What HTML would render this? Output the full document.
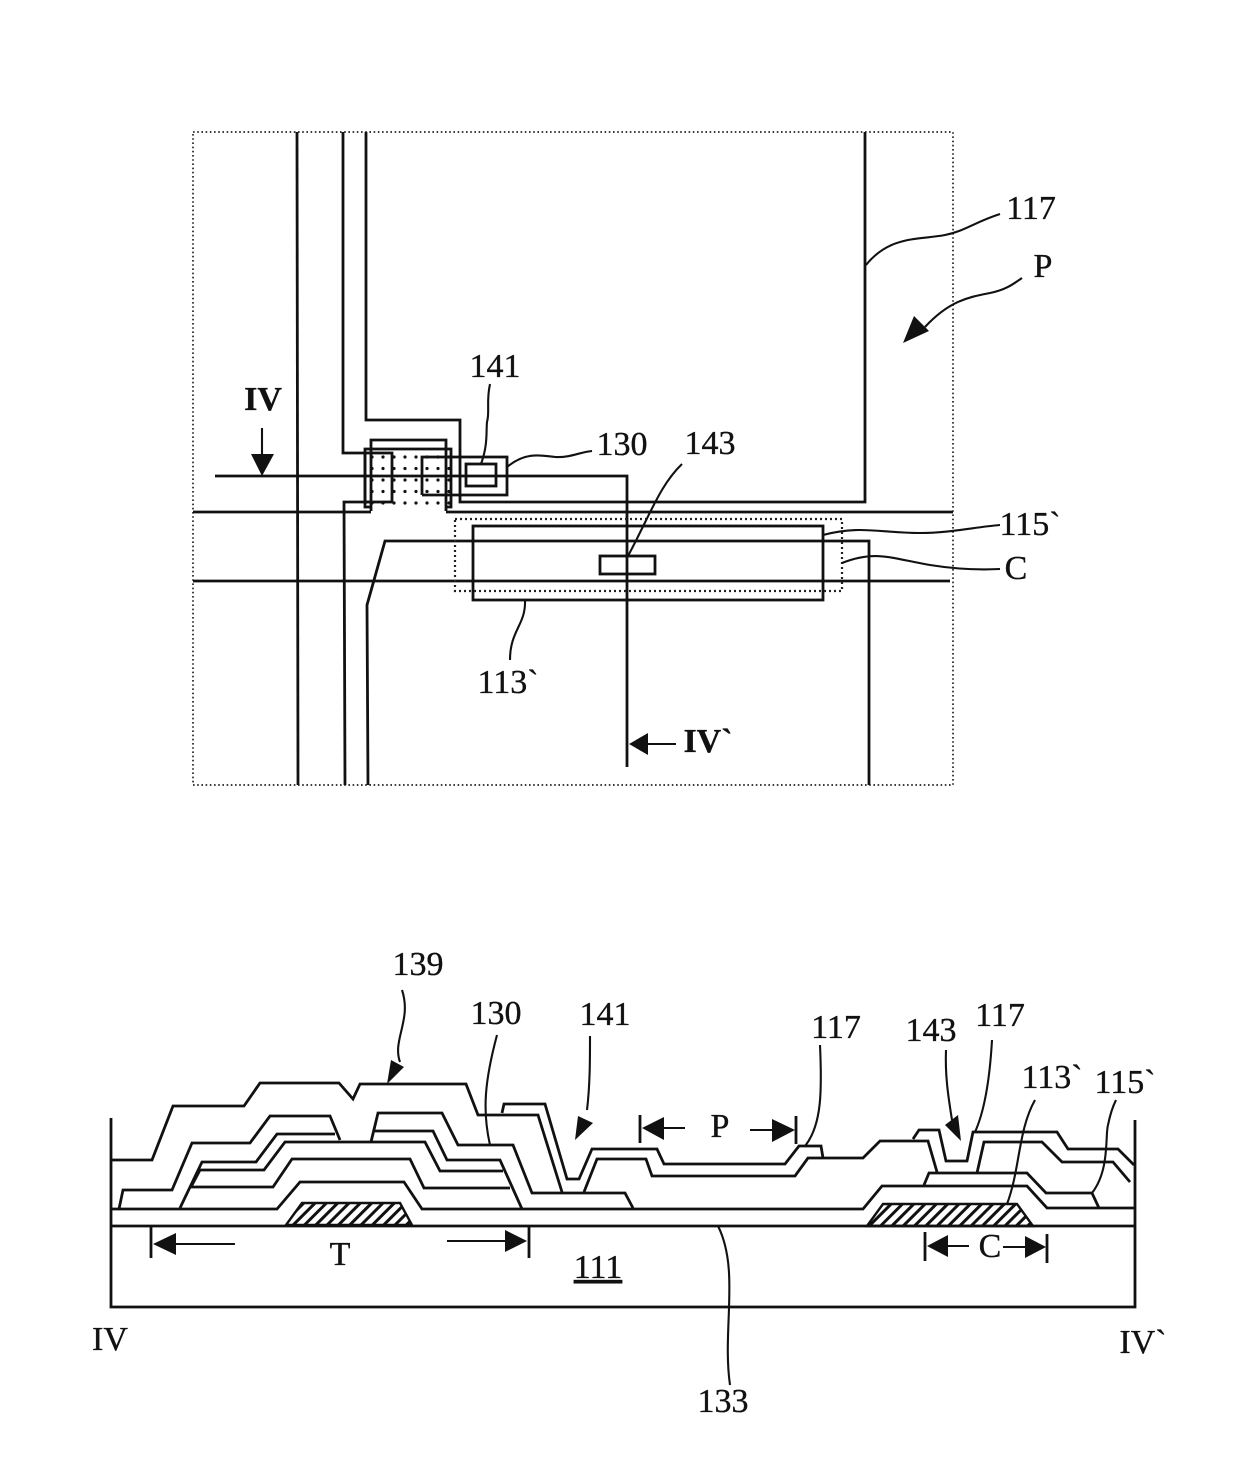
<!DOCTYPE html>
<html><head><meta charset="utf-8"><style>
html,body{margin:0;padding:0;background:#fff}
svg{display:block}
text{font-family:"Liberation Serif",serif;font-size:34px;fill:#111;stroke:#111;stroke-width:.35;text-anchor:middle}
.l{fill:none;stroke:#111;stroke-width:2.8;stroke-linejoin:miter}
.t{fill:none;stroke:#111;stroke-width:2.1}
.d{fill:none;stroke:#222;stroke-width:1.7;stroke-dasharray:1.6 2.6}
.d2{fill:none;stroke:#222;stroke-width:2.2;stroke-dasharray:2 3}
.a{fill:#111;stroke:none}
</style></head><body>
<svg width="1240" height="1471" viewBox="0 0 1240 1471" xmlns="http://www.w3.org/2000/svg">
<defs>
<pattern id="h" width="8" height="8" patternUnits="userSpaceOnUse" patternTransform="rotate(-45)">
<rect width="8" height="8" fill="#fff"/><rect x="0" y="0" width="8" height="3" fill="#111"/>
</pattern>
<pattern id="s" x="366" y="451" width="11" height="11.5" patternUnits="userSpaceOnUse">
<circle cx="6" cy="6" r="1.6" fill="#111"/>
</pattern>
</defs>

<!-- TOP PLAN VIEW -->
<rect x="193" y="132" width="760" height="653" class="d"/>
<rect x="366" y="450" width="85" height="56" fill="url(#s)"/>
<path class="l" d="M297 132L298 785"/>
<path class="l" d="M343 132V453H365"/>
<path class="l" d="M366 132V420H460V502H865V132"/>
<path class="l" d="M345 785L344 502H371"/>
<path class="l" d="M193 512H371M446 512H953"/>
<path class="l" d="M371 511V440H446V511"/>
<path class="l" d="M371 507H365V449H451V507H446"/>
<rect class="l" x="365" y="453" width="27" height="49"/>
<path class="l" d="M422 495V457H507V495H422"/>
<rect class="l" x="466" y="464" width="30" height="22"/>
<path class="l" d="M215 476H627V767"/>
<path class="l" d="M869 785V541H385L367 605L368 785"/>
<path class="l" d="M193 581H950"/>
<rect class="l" x="473" y="526" width="350" height="74"/>
<rect class="d2" x="455" y="519" width="387" height="72"/>
<rect class="l" x="600" y="556" width="55" height="18"/>
<!-- leaders top -->
<path class="t" d="M481 464C488 445 486 432 487 422C490 412 486 402 490 384"/>
<path class="t" d="M507 467C525 452 540 455 555 457C570 458 580 452 592 451"/>
<path class="t" d="M866 265C890 235 920 240 945 235C965 231 975 222 1000 214"/>
<path class="t" d="M925 327C950 300 970 297 990 293C1005 290 1012 285 1022 278"/>
<path class="a" d="M903 343L914 316L929 331Z"/>
<path class="t" d="M823 535C860 525 880 533 920 533C950 533 975 527 1000 525"/>
<path class="t" d="M842 563C875 550 890 558 930 565C955 569 980 570 1000 569"/>
<path class="t" d="M628 556C650 515 660 485 682 464"/>
<path class="t" d="M525 600C526 625 510 630 510 660"/>
<path class="t" d="M262 428V460"/>
<path class="a" d="M262 476L251 454H274Z"/>
<path class="t" d="M646 744H676"/>
<path class="a" d="M629 744L648 733V755Z"/>
<!-- labels top -->
<text x="1031" y="219">117</text>
<text x="1043" y="277">P</text>
<text x="495" y="377">141</text>
<text x="622" y="455">130</text>
<text x="710" y="454">143</text>
<text x="1030" y="535">115`</text>
<text x="1016" y="579">C</text>
<text x="508" y="693">113`</text>
<text x="263" y="410" font-weight="bold">IV</text>
<text x="708" y="752" font-weight="bold">IV`</text>

<!-- CROSS SECTION -->
<path d="M286 1225L302 1203H400L412 1225Z" fill="url(#h)" stroke="#111" stroke-width="2.4"/>
<path d="M867 1226L883 1204H1017L1033 1226Z" fill="url(#h)" stroke="#111" stroke-width="2.4"/>
<path class="l" d="M111 1118V1307H1135V1120"/>
<path class="l" d="M111 1226H1134"/>
<path class="l" d="M111 1209H277L300 1182H404L422 1209H863L882 1186H1027L1047 1208H1134"/>
<path class="l" d="M111 1160H152L173 1106H244L260 1083H339L353 1099L360 1084H466L478 1115H538L562 1192"/>
<path class="l" d="M502 1113L504 1104H545L567 1179H579L592 1149H657L664 1164H785L799 1146H821L823 1158"/>
<path class="l" d="M584 1192L597 1159H646L652 1176H795L808 1158H863L880 1141H928L937 1172"/>
<path class="l" d="M913 1139L919 1130H939L946 1161H967L973 1132H1057L1068 1149H1118L1134 1165"/>
<path class="l" d="M977 1173L984 1142H1042L1062 1162H1113L1130 1182"/>
<path class="l" d="M924 1185L929 1173H1027L1046 1193H1092L1099 1208"/>
<path class="l" d="M119 1209L123 1190H172L192 1143H250L270 1116H330L340 1140"/>
<path class="l" d="M180 1208L202 1162H256L277 1134H335"/>
<path class="l" d="M191 1187L200 1170H264L285 1142H425L440 1171H503"/>
<path class="l" d="M191 1187H273L292 1159H410L424 1188H510"/>
<path class="l" d="M371 1142L378 1113H442L458 1145H513L532 1193H625L633 1208"/>
<path class="l" d="M375 1131H433L447 1160H500L522 1209"/>
<!-- dimension T -->
<path class="l" d="M151 1226V1258M529 1226V1258"/>
<path class="t" d="M175 1244H235M447 1241H508"/>
<path class="a" d="M153 1244L176 1233V1255Z"/>
<path class="a" d="M527 1241L505 1230V1252Z"/>
<!-- dimension P -->
<path class="l" d="M640 1115V1143M796 1116V1144"/>
<path class="t" d="M662 1128H685M750 1130H775"/>
<path class="a" d="M642 1128L664 1117V1140Z"/>
<path class="a" d="M795 1130L772 1119V1142Z"/>
<!-- dimension C -->
<path class="l" d="M925 1232V1261M1047 1234V1263"/>
<path class="t" d="M946 1246H969M1003 1247H1026"/>
<path class="a" d="M927 1246L948 1235V1257Z"/>
<path class="a" d="M1046 1247L1025 1236V1258Z"/>
<!-- leaders bottom -->
<path class="t" d="M400 1062C392 1040 412 1020 402 990"/>
<path class="a" d="M387 1084L391 1060L404 1067Z"/>
<path class="t" d="M490 1145C482 1110 485 1080 497 1035"/>
<path class="t" d="M587 1110C590 1085 590 1060 590 1036"/>
<path class="a" d="M575 1140L578 1116L593 1123Z"/>
<path class="t" d="M805 1146C822 1125 822 1090 820 1045"/>
<path class="t" d="M952 1120C948 1095 945 1075 946 1050"/>
<path class="a" d="M961 1141L945 1125L958 1115Z"/>
<path class="t" d="M975 1132C985 1110 990 1075 992 1040"/>
<path class="t" d="M1007 1204C1020 1170 1018 1130 1035 1100"/>
<path class="t" d="M1092 1193C1110 1170 1105 1135 1108 1125C1110 1115 1112 1108 1116 1100"/>
<path class="t" d="M718 1226C740 1270 722 1330 730 1385"/>
<!-- labels bottom -->
<text x="418" y="975">139</text>
<text x="496" y="1024">130</text>
<text x="605" y="1025">141</text>
<text x="836" y="1038">117</text>
<text x="931" y="1041">143</text>
<text x="1000" y="1026">117</text>
<text x="1052" y="1088">113`</text>
<text x="1125" y="1093">115`</text>
<text x="720" y="1137">P</text>
<text x="990" y="1257">C</text>
<text x="340" y="1265">T</text>
<text x="598" y="1278" text-decoration="underline">111</text>
<text x="110" y="1350">IV</text>
<text x="1143" y="1353">IV`</text>
<text x="723" y="1412">133</text>
</svg>
</body></html>
